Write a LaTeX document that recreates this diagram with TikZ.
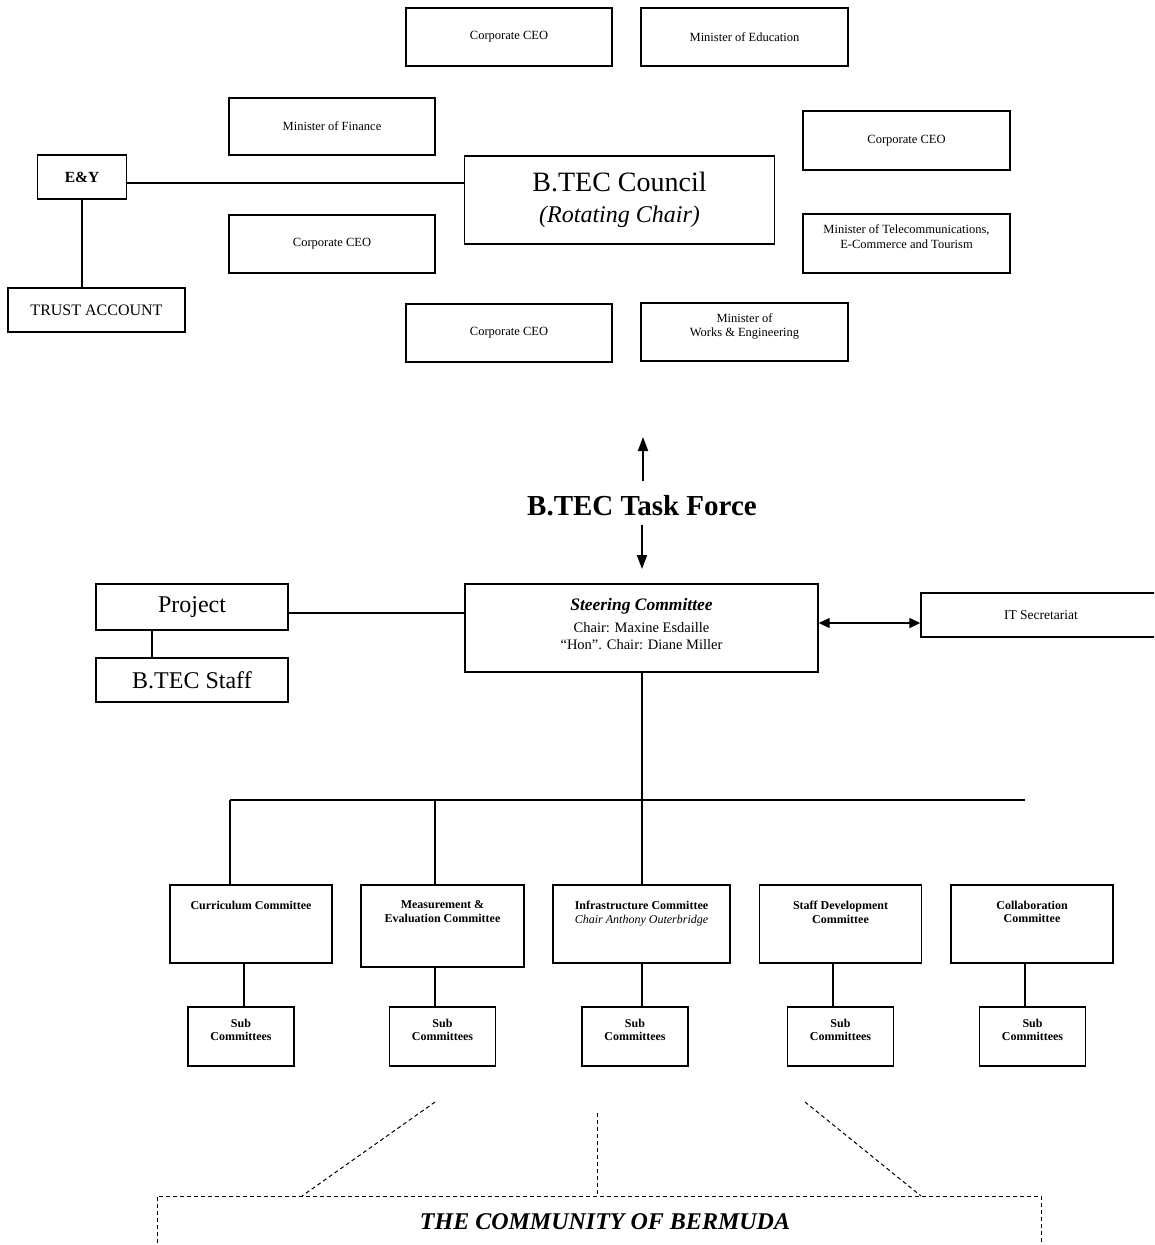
\documentclass[tikz,border=0pt]{standalone}
\usepackage{fontspec}
\setmainfont{Liberation Serif}
\usetikzlibrary{arrows.meta}
\newcommand{\fs}[1]{\fontsize{#1pt}{\fpeval{#1*1.15}pt}\selectfont}
\begin{document}
\begin{tikzpicture}[x=1pt,y=-1pt,
  box/.style={draw, line width=1.4pt, rectangle, inner sep=2pt, align=center},
  sbox/.style={box, font=\fs{12.5}},
  conn/.style={line width=1.4pt},
  arr/.style={line width=1.8pt, -{Triangle[length=14pt,width=10pt]}},
  dbl/.style={line width=1.4pt, {Triangle[length=11pt,width=10pt]}-{Triangle[length=11pt,width=10pt]}},
  dsh/.style={line width=1pt, dash pattern=on 4pt off 3pt},
  ctitle/.style={font=\fs{12}\bfseries, align=center, anchor=north, yshift=-13pt}]
\useasboundingbox (0,0) rectangle (1154,1245);
\clip (0,0) rectangle (1154,1245);

% council group
\node[sbox, minimum width=206, minimum height=58] (ceoa) at (509,37) {Corporate CEO};
\node[sbox, minimum width=207, minimum height=58] (edu) at (744.5,37) {Minister of Education};
\node[sbox, minimum width=206, minimum height=57] (fin) at (332,126.5) {Minister of Finance};
\node[sbox, minimum width=207, minimum height=59] (ceob) at (906.5,140.5) {Corporate CEO};
\node[box, minimum width=310, minimum height=88, font=\fs{28}] (council) at (619.5,200)
  {B.TEC Council\\[-1pt]{\fs{24}\itshape (Rotating Chair)}};
\node[box, minimum width=89, minimum height=44, font=\fs{15.5}\bfseries] (ey) at (82,177) {E\&Y};
\node[sbox, minimum width=206, minimum height=58] (ceoc) at (332,244) {Corporate CEO};
\node[sbox, minimum width=207, minimum height=59, text depth=14pt] (tel) at (906.5,243.5)
  {Minister of Telecommunications,\\E-Commerce and Tourism};
\node[box, minimum width=177, minimum height=44, font=\fs{16}] (trust) at (96.5,310) {TRUST ACCOUNT};
\node[sbox, minimum width=206, minimum height=58] (ceod) at (509,333) {Corporate CEO};
\node[sbox, minimum width=207, minimum height=58, text depth=14pt] (works) at (744.5,332)
  {Minister of\\Works \& Engineering};

\draw[conn] ([yshift=-6pt]ey.east) -- ([yshift=-6pt]ey.east -| council.west);
\draw[conn] (ey.south) -- (ey.south |- trust.north);

% task force
\node[font=\fs{29}\bfseries] (tf) at (642,506) {B.TEC Task Force};
\coordinate (upa) at (643,481);
\coordinate (upb) at (643,437);
\coordinate (dna) at (642,525);
\coordinate (dnb) at (642,569);
\draw[arr] (upa) -- (upb);
\draw[arr] (dna) -- (dnb);

% steering
\node[box, minimum width=353, minimum height=88, font=\fs{14.5}, text depth=8pt] (steer) at (641.5,628)
  {{\fs{17.5}\bfseries\itshape Steering Committee}\\[5pt]Chair: Maxine Esdaille\\“Hon”. Chair: Diane Miller};
\node[box, minimum width=240, minimum height=44, font=\fs{13.5}] (itsec) at (1041,615) {IT Secretariat};
\node[box, minimum width=192, minimum height=46, font=\fs{24}] (proj) at (192,607) {Project};
\node[box, minimum width=192, minimum height=44, font=\fs{24}] (staffb) at (192,680) {B.TEC Staff};

\draw[dbl] ([yshift=5pt]steer.east) -- ([yshift=5pt]steer.east -| itsec.west);
\draw[conn] ([yshift=-6pt]proj.east) -- ([yshift=-6pt]proj.east -| steer.west);
\draw[conn] ([xshift=-40pt]proj.south) -- ([xshift=-40pt]proj.south |- staffb.north);

% committees
\node[box, minimum width=162, minimum height=78, label={[ctitle]north:Curriculum Committee}] (cur) at (251,924) {};
\node[box, minimum width=163, minimum height=82, label={[ctitle]north:Measurement \&\\Evaluation Committee}] (meas) at (442.5,926) {};
\node[box, minimum width=177, minimum height=78, label={[ctitle]north:Infrastructure Committee\\{\mdseries\itshape Chair Anthony Outerbridge}}] (infra) at (641.5,924) {};
\node[box, minimum width=162, minimum height=78, label={[ctitle]north:Staff Development\\Committee}] (sdev) at (840.5,924) {};
\node[box, minimum width=162, minimum height=78, label={[ctitle]north:Collaboration\\Committee}] (collab) at (1032,924) {};

\coordinate (bus) at (642,800);
\coordinate (busl) at (230,800);
\coordinate (busm) at (435,800);
\coordinate (busr) at (1025,800);
\draw[conn] (bus |- steer.south) -- (bus);
\draw[conn] (busl) -- (busr);
\draw[conn] (busl) -- (busl |- cur.north);
\draw[conn] (busm) -- (busm |- meas.north);
\draw[conn] (bus) -- (bus |- infra.north);

\tikzset{subc/.style={box, minimum width=106, minimum height=59, label={[font=\fs{12}\bfseries, align=center, anchor=north, yshift=-9pt]north:Sub\\Committees}}}
\node[subc] (s1) at (241,1036.5) {};
\node[subc] (s2) at (442.5,1036.5) {};
\node[subc] (s3) at (635,1036.5) {};
\node[subc] (s4) at (840.5,1036.5) {};
\node[subc] (s5) at (1032.5,1036.5) {};

\draw[conn] (244,0 |- cur.south) -- (244,0 |- s1.north);
\draw[conn] (435,0 |- meas.south) -- (435,0 |- s2.north);
\draw[conn] (642,0 |- infra.south) -- (642,0 |- s3.north);
\draw[conn] (833,0 |- sdev.south) -- (833,0 |- s4.north);
\draw[conn] (1025,0 |- collab.south) -- (1025,0 |- s5.north);

% community
\coordinate (cl) at (157,1196);
\coordinate (cr) at (1041,1196);
\draw[dsh] (157,1250) -- (cl) -- (cr) -- (1041,1250);
\node[font=\fs{24}\bfseries\itshape] (comm) at (605,1222) {THE COMMUNITY OF BERMUDA};
\coordinate (da) at (435,1102);
\coordinate (db) at (302,1196);
\coordinate (dc) at (597,1113);
\coordinate (dd) at (597,1196);
\coordinate (de) at (805,1102);
\coordinate (df) at (921,1196);
\draw[dsh] (da) -- (db);
\draw[dsh] (dc) -- (dd);
\draw[dsh] (de) -- (df);
\end{tikzpicture}
\end{document}
